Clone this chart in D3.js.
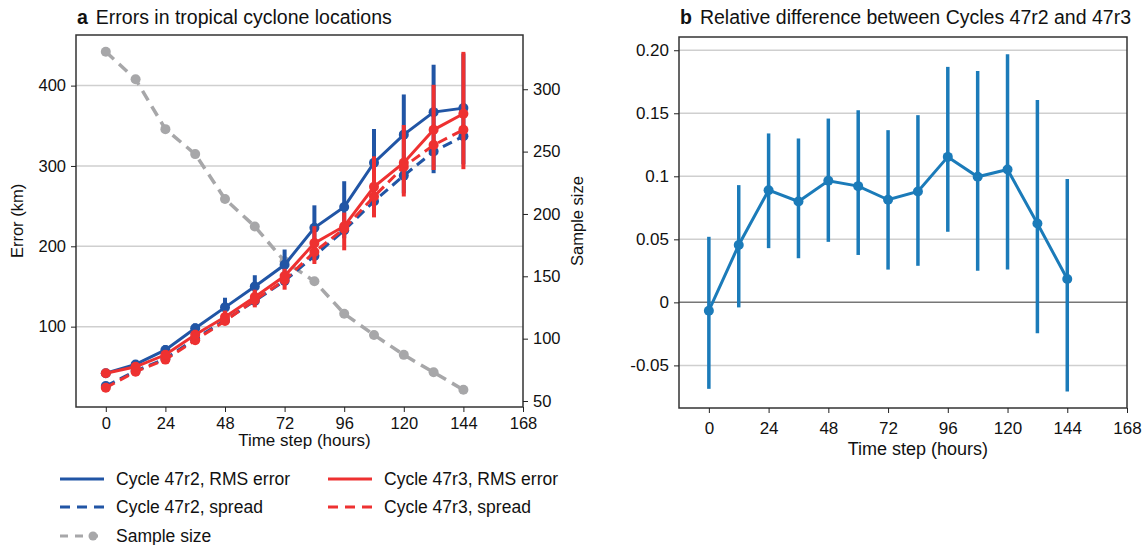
<!DOCTYPE html>
<html>
<head>
<meta charset="utf-8">
<script src="https://cdn.jsdelivr.net/npm/d3@7"></script>
<style>
body { margin: 0; background: #fff; }
svg text { font-family: "Liberation Sans", Arial, sans-serif; fill: #111; }
.axis path, .axis line { stroke: #222; }
</style>
</head>
<body>
<div id="gr"></div>
<script>
// lead times (hours)
var steps = [0, 12, 24, 36, 48, 60, 72, 84, 96, 108, 120, 132, 144];

// panel a: errors in km
var rms47r2 = [42, 53, 71, 98, 124, 150, 177, 223, 249, 304, 339, 367, 372];
var rms47r2Lo = [38, 49, 66, 91, 115, 137, 158, 185, 210, 240, 266, 291, 302];
var rms47r2Hi = [46, 58, 77, 104, 136, 164, 196, 251, 281, 346, 389, 426, 440];
var rms47r3 = [42, 50, 65, 90, 112, 137, 163, 204, 225, 274, 304, 345, 365];
var rms47r3Lo = [39, 46, 60, 84, 105, 124, 146, 178, 195, 236, 262, 295, 296];
var rms47r3Hi = [45, 54, 70, 96, 120, 146, 172, 225, 242, 312, 351, 401, 442];
var spread47r2 = [26, 45, 60, 85, 108, 132, 157, 188, 220, 256, 288, 318, 337];
var spread47r3 = [24, 44, 59, 83, 107, 133, 158, 193, 222, 262, 299, 326, 345];
var sampleSize = [330, 308, 268, 248, 212, 190, 162, 146, 120, 103, 87, 73, 59];

// panel b: relative difference
var relDiff = [-0.0066, 0.0455, 0.089, 0.080, 0.0964, 0.0922, 0.0814, 0.088, 0.1154, 0.0996, 0.1054, 0.0626, 0.0185];
var relLo = [-0.0686, -0.004, 0.043, 0.035, 0.048, 0.0376, 0.026, 0.029, 0.056, 0.025, 0.026, -0.0246, -0.0708];
var relHi = [0.052, 0.093, 0.134, 0.130, 0.1458, 0.1524, 0.1366, 0.1485, 0.1868, 0.1836, 0.1968, 0.1606, 0.0978];

var xTicks = [0, 24, 48, 72, 96, 120, 144, 168];
var errTicks = [100, 200, 300, 400];
var sampleTicks = [50, 100, 150, 200, 250, 300];
var relTicks = [-0.05, 0, 0.05, 0.1, 0.15, 0.2];
var relTickLabels = ["-0.05", "0", "0.05", "0.1", "0.15", "0.20"];

var blue = "#2155a5", red = "#ee3131", grey = "#a7a7a9", relBlue = "#1b7bb9";

var svg = d3.select("#gr").append("svg")
  .attr("width", 1148)
  .attr("height", 545);

// ---------- panel a ----------
var a = { left: 76, right: 523, top: 35, bottom: 407 };

var xA = d3.scaleLinear().domain([-12, 168]).range([a.left, a.right]);
var yErr = d3.scaleLinear().domain([0, 463]).range([a.bottom, a.top]);
var ySam = d3.scaleLinear().domain([45.2, 343.5]).range([a.bottom, a.top]);

var gA = svg.append("g");

gA.selectAll("line.grid").data(errTicks).enter().append("line")
  .attr("class", "grid")
  .attr("x1", a.left).attr("x2", a.right)
  .attr("y1", function (d) { return yErr(d); })
  .attr("y2", function (d) { return yErr(d); })
  .attr("stroke", "#cfcfcf").attr("stroke-width", 1.5);

function drawSeries(g, vals, color, dashed, xs, ys, width, r) {
  var line = d3.line()
    .x(function (d, i) { return xs(steps[i]); })
    .y(function (d) { return ys(d); });
  g.append("path")
    .datum(vals)
    .attr("d", line)
    .attr("fill", "none")
    .attr("stroke", color)
    .attr("stroke-width", width)
    .attr("stroke-dasharray", dashed ? "10,6" : null);
  g.selectAll(null).data(vals).enter().append("circle")
    .attr("cx", function (d, i) { return xs(steps[i]); })
    .attr("cy", function (d) { return ys(d); })
    .attr("r", r)
    .attr("fill", color);
}

function drawBars(g, lo, hi, color, xs, ys, width) {
  g.selectAll(null).data(lo).enter().append("line")
    .attr("x1", function (d, i) { return xs(steps[i]); })
    .attr("x2", function (d, i) { return xs(steps[i]); })
    .attr("y1", function (d) { return ys(d); })
    .attr("y2", function (d, i) { return ys(hi[i]); })
    .attr("stroke", color)
    .attr("stroke-width", width);
}

// sample size
var sampLine = d3.line()
  .x(function (d, i) { return xA(steps[i]); })
  .y(function (d) { return ySam(d); });
gA.append("path").datum(sampleSize).attr("d", sampLine)
  .attr("fill", "none").attr("stroke", grey).attr("stroke-width", 3.5)
  .attr("stroke-dasharray", "11,7");
gA.selectAll(null).data(sampleSize).enter().append("circle")
  .attr("cx", function (d, i) { return xA(steps[i]); })
  .attr("cy", function (d) { return ySam(d); })
  .attr("r", 5).attr("fill", grey);

drawBars(gA, rms47r2Lo, rms47r2Hi, blue, xA, yErr, 4);
drawSeries(gA, spread47r2, blue, true, xA, yErr, 3, 5);
drawSeries(gA, rms47r2, blue, false, xA, yErr, 3, 5);
drawBars(gA, rms47r3Lo, rms47r3Hi, red, xA, yErr, 4);
drawSeries(gA, spread47r3, red, true, xA, yErr, 3, 5);
drawSeries(gA, rms47r3, red, false, xA, yErr, 3, 5);

gA.append("rect")
  .attr("x", a.left).attr("y", a.top)
  .attr("width", a.right - a.left).attr("height", a.bottom - a.top)
  .attr("fill", "none").attr("stroke", "#333").attr("stroke-width", 1.5);

gA.append("g").attr("class", "axis")
  .attr("transform", "translate(0," + a.bottom + ")")
  .call(d3.axisBottom(xA).tickValues(xTicks).tickSize(5).tickPadding(5))
  .call(function (g) { g.select(".domain").remove(); })
  .selectAll("text").style("font-size", "16.5px");

gA.append("g").attr("class", "axis")
  .attr("transform", "translate(" + a.left + ",0)")
  .call(d3.axisLeft(yErr).tickValues(errTicks).tickSize(5).tickPadding(5))
  .call(function (g) { g.select(".domain").remove(); })
  .selectAll("text").style("font-size", "16.5px");

gA.append("g").attr("class", "axis")
  .attr("transform", "translate(" + a.right + ",0)")
  .call(d3.axisRight(ySam).tickValues(sampleTicks).tickSize(5).tickPadding(5))
  .call(function (g) { g.select(".domain").remove(); })
  .selectAll("text").style("font-size", "16.5px");

gA.append("text")
  .attr("transform", "translate(23," + ((a.top + a.bottom) / 2) + ") rotate(-90)")
  .attr("text-anchor", "middle")
  .style("font-size", "16.5px")
  .text("Error (km)");

gA.append("text")
  .attr("transform", "translate(583," + ((a.top + a.bottom) / 2) + ") rotate(-90)")
  .attr("text-anchor", "middle")
  .style("font-size", "16.5px")
  .text("Sample size");

gA.append("text")
  .attr("x", xA(80)).attr("y", 446)
  .attr("text-anchor", "middle")
  .style("font-size", "17px")
  .text("Time step (hours)");

var tA = gA.append("text").attr("x", a.left + 1).attr("y", 24).style("font-size", "19.5px");
tA.append("tspan").style("font-weight", "bold").text("a");
tA.append("tspan").attr("dx", 8).text("Errors in tropical cyclone locations");

// legend
var legend = [
  { label: "Cycle 47r2, RMS error", color: blue, dash: null, x: 60, y: 479 },
  { label: "Cycle 47r3, RMS error", color: red, dash: null, x: 328, y: 479 },
  { label: "Cycle 47r2, spread", color: blue, dash: "10,7", x: 60, y: 507 },
  { label: "Cycle 47r3, spread", color: red, dash: "10,7", x: 328, y: 507 },
  { label: "Sample size", color: grey, dash: "8,7", x: 60, y: 536, dot: true }
];
var lg = svg.append("g").selectAll("g").data(legend).enter().append("g")
  .attr("transform", function (d) { return "translate(" + d.x + "," + d.y + ")"; });
lg.append("line")
  .attr("x1", 0).attr("x2", 44).attr("y1", 0).attr("y2", 0)
  .attr("stroke", function (d) { return d.color; })
  .attr("stroke-width", 3)
  .attr("stroke-dasharray", function (d) { return d.dash; });
lg.filter(function (d) { return d.dot; }).append("circle")
  .attr("cx", 33).attr("cy", 0).attr("r", 4.5).attr("fill", grey);
lg.append("text")
  .attr("x", 56).attr("y", 6)
  .style("font-size", "17.5px")
  .text(function (d) { return d.label; });

// ---------- panel b ----------
var b = { left: 679, right: 1127, top: 37, bottom: 408 };
var xB = d3.scaleLinear().domain([-12, 168]).range([b.left, b.right]);
var yB = d3.scaleLinear().domain([-0.0838, 0.2105]).range([b.bottom, b.top]);

var gB = svg.append("g");

gB.selectAll("line.grid").data(relTicks).enter().append("line")
  .attr("class", "grid")
  .attr("x1", b.left).attr("x2", b.right)
  .attr("y1", function (d) { return yB(d); })
  .attr("y2", function (d) { return yB(d); })
  .attr("stroke", function (d) { return d === 0 ? "#777" : "#cfcfcf"; })
  .attr("stroke-width", 1.5);

drawBars(gB, relLo, relHi, relBlue, xB, yB, 3.5);
drawSeries(gB, relDiff, relBlue, false, xB, yB, 3, 5);

gB.append("rect")
  .attr("x", b.left).attr("y", b.top)
  .attr("width", b.right - b.left).attr("height", b.bottom - b.top)
  .attr("fill", "none").attr("stroke", "#333").attr("stroke-width", 1.5);

gB.append("g").attr("class", "axis")
  .attr("transform", "translate(0," + b.bottom + ")")
  .call(d3.axisBottom(xB).tickValues(xTicks).tickSize(5).tickPadding(9))
  .call(function (g) { g.select(".domain").remove(); })
  .selectAll("text").style("font-size", "17px");

gB.append("g").attr("class", "axis")
  .attr("transform", "translate(" + b.left + ",0)")
  .call(d3.axisLeft(yB).tickValues(relTicks).tickSize(5).tickPadding(5)
    .tickFormat(function (d, i) { return relTickLabels[i]; }))
  .call(function (g) { g.select(".domain").remove(); })
  .selectAll("text").style("font-size", "17px");

gB.append("text")
  .attr("x", xB(84)).attr("y", 455)
  .attr("text-anchor", "middle")
  .style("font-size", "18px")
  .text("Time step (hours)");

var tB = gB.append("text").attr("x", b.left + 1).attr("y", 24).style("font-size", "19.5px");
tB.append("tspan").style("font-weight", "bold").text("b");
tB.append("tspan").attr("dx", 8).text("Relative difference between Cycles 47r2 and 47r3");
</script>
</body>
</html>
